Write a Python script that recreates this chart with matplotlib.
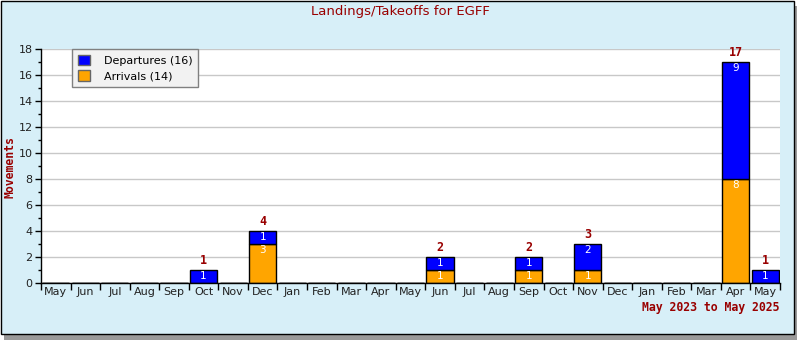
import matplotlib
matplotlib.use("Agg")
import matplotlib.pyplot as plt
from matplotlib.patches import Rectangle
import numpy as np

months = ["May", "Jun", "Jul", "Aug", "Sep", "Oct", "Nov", "Dec",
          "Jan", "Feb", "Mar", "Apr", "May", "Jun", "Jul", "Aug",
          "Sep", "Oct", "Nov", "Dec", "Jan", "Feb", "Mar", "Apr", "May"]
arrivals = [0, 0, 0, 0, 0, 0, 0, 3, 0, 0, 0, 0, 0, 1, 0, 0,
            1, 0, 1, 0, 0, 0, 0, 8, 0]
departures = [0, 0, 0, 0, 0, 1, 0, 1, 0, 0, 0, 0, 0, 1, 0, 0,
              1, 0, 2, 0, 0, 0, 0, 9, 1]

title = "Landings/Takeoffs for EGFF"
period = "May 2023 to May 2025"
dark_red = "#990000"
bg = "#d7eff8"

fig = plt.figure(figsize=(8, 3.4), dpi=100)
fig.patch.set_facecolor("white")

W, H = 800, 340
# drop shadow and framed panel
fig.add_artist(Rectangle((4 / W, 0), 793 / W, 1 - 6 / H,
                         transform=fig.transFigure, facecolor="#9a9a9a",
                         edgecolor="none", zorder=0))
fig.add_artist(Rectangle((0.5 / W, 1 - 333.5 / H), 793 / W, 333 / H,
                         transform=fig.transFigure, facecolor=bg,
                         edgecolor="black", linewidth=1, zorder=0))

ax = fig.add_axes([41 / W, 1 - 283 / H, 739 / W, 234 / H])
ax.set_facecolor("white")
ax.set_zorder(1)

x = np.arange(len(months))
arr = np.array(arrivals)
dep = np.array(departures)
tot = arr + dep

ax.bar(x, arr, width=0.92, color="#ffa500", edgecolor="black",
       linewidth=1, zorder=3, label="Arrivals (%d)" % arr.sum())
ax.bar(x, dep, width=0.92, bottom=arr, color="#0000ff", edgecolor="black",
       linewidth=1, zorder=3, label="Departures (%d)" % dep.sum())

for i in x:
    if arr[i] > 0:
        ax.annotate(str(arr[i]), (i, arr[i]), xytext=(0, -1),
                    textcoords="offset points", ha="center", va="top",
                    color="white", fontsize=7.5, zorder=4)
    if dep[i] > 0:
        ax.annotate(str(dep[i]), (i, tot[i]), xytext=(0, -1),
                    textcoords="offset points", ha="center", va="top",
                    color="white", fontsize=7.5, zorder=4)
    if tot[i] > 0:
        ax.annotate(str(tot[i]), (i, tot[i]), xytext=(0, 2),
                    textcoords="offset points", ha="center", va="bottom",
                    color=dark_red, fontsize=8.5, fontweight="bold",
                    family="DejaVu Sans Mono", zorder=4)

ax.set_xlim(-0.5, len(months) - 0.5)
ax.set_ylim(0, 18)
ax.set_yticks(np.arange(0, 19, 2))
ax.set_yticks(np.arange(0, 19, 1), minor=True)
ax.set_xticks(x)
ax.set_xticklabels(months)
ax.set_xticks(np.arange(-0.5, len(months), 1), minor=True)
ax.tick_params(axis="x", which="major", length=0, pad=3, labelsize=8,
               colors="#222222")
ax.tick_params(axis="x", which="minor", length=5, width=1, color="black")
ax.tick_params(axis="y", which="major", length=4, width=1, labelsize=8,
               pad=2, colors="black", labelcolor="#222222")
ax.tick_params(axis="y", which="minor", length=2, width=1)
ax.grid(axis="y", which="major", color="#c8c8c8", linewidth=1, zorder=0)
ax.set_axisbelow(True)
for s in ("top", "right"):
    ax.spines[s].set_visible(False)
for s in ("left", "bottom"):
    ax.spines[s].set_color("black")
    ax.spines[s].set_linewidth(1)
    ax.spines[s].set_zorder(5)

handles, labels = ax.get_legend_handles_labels()
leg = ax.legend(handles[::-1], labels[::-1], loc="upper left",
                bbox_to_anchor=(31 / 739, 1.0), borderaxespad=0,
                fancybox=False, framealpha=1, facecolor="#f2f2f2",
                edgecolor="#808080", fontsize=8, handlelength=1.1,
                handleheight=1.1, handletextpad=1.3, borderpad=0.5,
                labelspacing=0.4)
leg.get_frame().set_linewidth(1)
for h in leg.legend_handles:
    h.set_edgecolor("#666666")
    h.set_linewidth(1)
leg.set_zorder(6)

fig.text(0.5, 1 - 12 / H, title, ha="center", va="center",
         color=dark_red, fontsize=9.5)
fig.text(10 / W, 1 - 167 / H, "Movements", ha="center", va="center",
         rotation=90, color=dark_red, fontsize=8.3, fontweight="bold",
         family="DejaVu Sans Mono")
fig.text(779 / W, 1 - 307 / H, period, ha="right", va="center",
         color=dark_red, fontsize=8.3, fontweight="bold",
         family="DejaVu Sans Mono")

fig.savefig("out.png", dpi=100, facecolor=fig.get_facecolor())
